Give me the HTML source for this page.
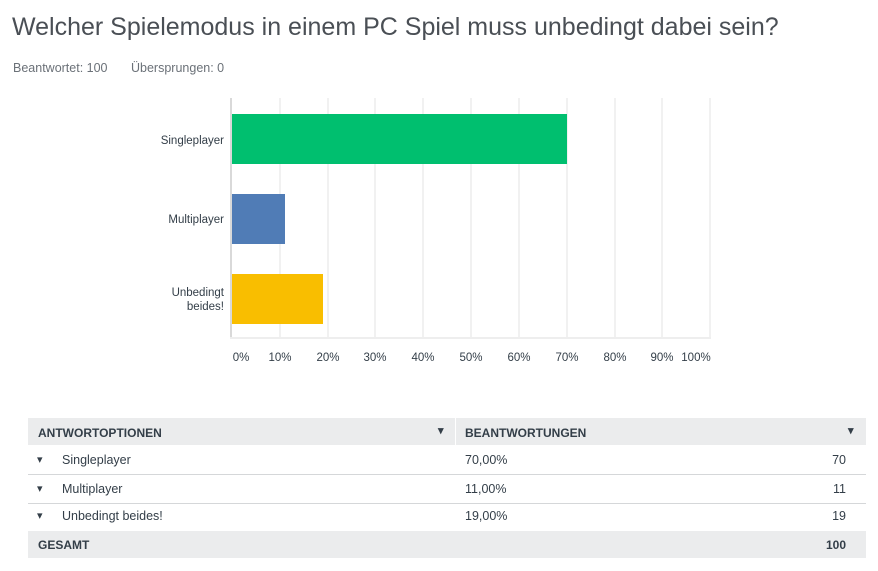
<!DOCTYPE html>
<html><head><meta charset="utf-8"><style>
body{margin:0;width:878px;height:571px;background:#fff;font-family:"Liberation Sans",sans-serif;color:#333e48;position:relative;overflow:hidden}
.a{position:absolute;white-space:nowrap}
.row{position:absolute;left:28px;width:838px;height:28px;font-size:12.5px}
</style></head><body>
<div class="a" style="left:12px;top:13px;font-size:25px;color:#4a4f55">Welcher Spielemodus in einem PC Spiel muss unbedingt dabei sein?</div>
<div class="a" style="left:13px;top:61px;font-size:12.5px;color:#6b7178">Beantwortet: 100</div>
<div class="a" style="left:131px;top:61px;font-size:12.5px;color:#6b7178">Übersprungen: 0</div>
<svg class="a" style="left:0;top:0" width="878" height="400">
<g stroke="#f1f1f1" stroke-width="2">
<line x1="280" y1="98" x2="280" y2="338"/><line x1="328" y1="98" x2="328" y2="338"/><line x1="375" y1="98" x2="375" y2="338"/><line x1="423" y1="98" x2="423" y2="338"/><line x1="471" y1="98" x2="471" y2="338"/><line x1="519" y1="98" x2="519" y2="338"/><line x1="567" y1="98" x2="567" y2="338"/><line x1="615" y1="98" x2="615" y2="338"/><line x1="662" y1="98" x2="662" y2="338"/><line x1="710" y1="98" x2="710" y2="338"/>
</g>
<line x1="231" y1="98" x2="231" y2="339" stroke="#d9d9d9" stroke-width="2"/>
<line x1="230" y1="338" x2="711" y2="338" stroke="#eeeeee" stroke-width="2"/>
<rect x="232" y="114" width="335" height="50" fill="#00bf6f"/>
<rect x="232" y="194" width="53" height="50" fill="#507cb6"/>
<rect x="232" y="274" width="91" height="50" fill="#f9be00"/>
<g font-size="11.5" fill="#333e48" text-anchor="end" font-family="Liberation Sans,sans-serif">
<text x="224" y="144">Singleplayer</text>
<text x="224" y="223">Multiplayer</text>
<text x="224" y="296">Unbedingt</text>
<text x="224" y="310">beides!</text>
</g>
<g font-size="11.5" fill="#333e48" text-anchor="middle" font-family="Liberation Sans,sans-serif">
<text x="241" y="361">0%</text><text x="280" y="361">10%</text><text x="328" y="361">20%</text><text x="375" y="361">30%</text><text x="423" y="361">40%</text><text x="471" y="361">50%</text><text x="519" y="361">60%</text><text x="567" y="361">70%</text><text x="615" y="361">80%</text><text x="662" y="361">90%</text><text x="696" y="361">100%</text>
</g>
</svg>
<div class="row" style="top:418px;height:27px;background:#ebeced;font-weight:bold;font-size:12px">
<span class="a" style="left:10px;top:8px">ANTWORTOPTIONEN</span><span class="a" style="left:410px;top:6px;font-size:11px">▾</span>
<div class="a" style="left:427px;top:0;width:1px;height:27px;background:#fff"></div>
<span class="a" style="left:437px;top:8px">BEANTWORTUNGEN</span><span class="a" style="left:820px;top:6px;font-size:11px">▾</span></div>
<div class="row" style="top:446px;border-bottom:1px solid #d5d7d9"><span class="a" style="left:9px;top:7px;font-size:11px">▾</span><span class="a" style="left:34px;top:7px">Singleplayer</span><span class="a" style="left:437px;top:7px">70,00%</span><span class="a" style="right:20px;top:7px">70</span></div>
<div class="row" style="top:475px;border-bottom:1px solid #d5d7d9"><span class="a" style="left:9px;top:7px;font-size:11px">▾</span><span class="a" style="left:34px;top:7px">Multiplayer</span><span class="a" style="left:437px;top:7px">11,00%</span><span class="a" style="right:20px;top:7px">11</span></div>
<div class="row" style="top:504px"><span class="a" style="left:9px;top:5px;font-size:11px">▾</span><span class="a" style="left:34px;top:5px">Unbedingt beides!</span><span class="a" style="left:437px;top:5px">19,00%</span><span class="a" style="right:20px;top:5px">19</span></div>
<div class="row" style="top:531px;height:27px;background:#ebeced;font-weight:bold;font-size:12px"><span class="a" style="left:10px;top:7px">GESAMT</span><span class="a" style="right:20px;top:7px">100</span></div>
</body></html>
